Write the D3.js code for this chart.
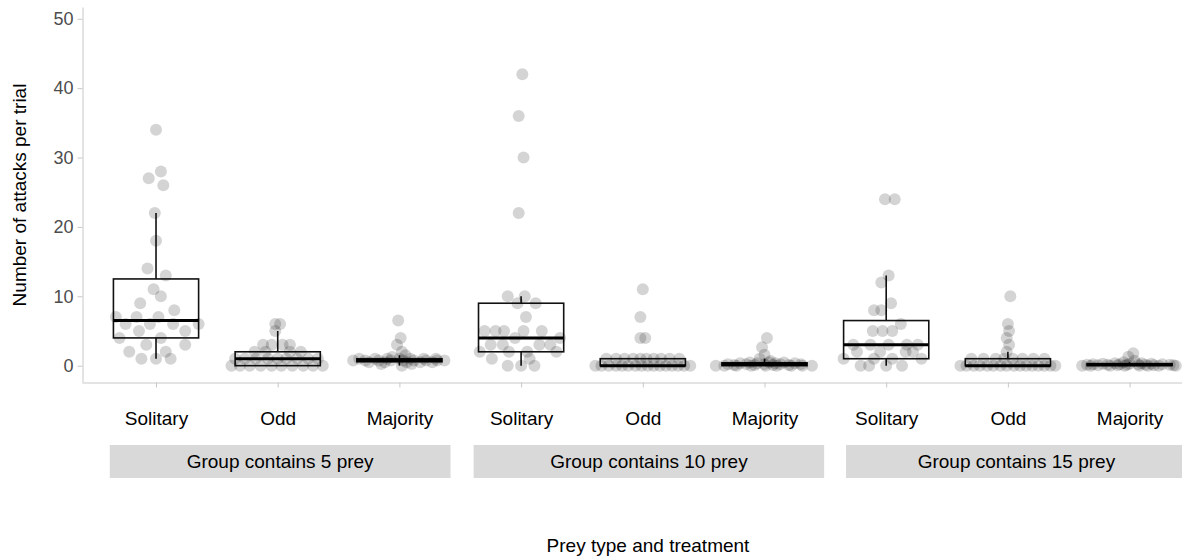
<!DOCTYPE html>
<html>
<head>
<meta charset="utf-8">
<script src="https://cdn.jsdelivr.net/npm/d3@7"></script>
<style>
  html, body { margin: 0; padding: 0; background: #fff; }
  svg text { font-family: "Liberation Sans", Arial, sans-serif; }
</style>
</head>
<body>
<svg id="chart" width="1182" height="560"></svg>
<script>
// Prey types, repeated within each group-size treatment
const preyTypes = ["Solitary", "Odd", "Majority"];
const groupSizes = [5, 10, 15];
const stripLabels = ["Group contains 5 prey", "Group contains 10 prey", "Group contains 15 prey"];
const yTicks = [0, 10, 20, 30, 40, 50];

// Attacks per trial, one array per treatment; jitter arrays hold the
// horizontal spread of each point in category-width units.
const solitary5 = [34, 28, 27, 26, 22, 18, 14, 13, 11, 10, 9, 8, 7, 7, 7, 6, 6, 6, 6, 5, 5, 4, 4, 3, 3, 2, 2, 1, 1, 1];
const solitary5Jitter = [0.00, 0.04, -0.06, 0.06, -0.01, 0.00, -0.07, 0.08, -0.02, 0.04, -0.13, 0.15, -0.33, -0.16, 0.02, -0.25, -0.05, 0.14, 0.35, -0.14, 0.24, -0.30, 0.04, -0.08, 0.24, -0.22, 0.08, -0.12, 0.00, 0.12];

const odd5 = [6, 6, 5, 3, 3, 3, 3, 2, 2, 2, 2, 1, 1, 1, 1, 1, 1, 1, 1, 1, 0, 0, 0, 0, 0, 0, 0, 0, 0, 0];
const odd5Jitter = [-0.02, 0.02, -0.02, -0.12, -0.05, 0.04, 0.10, -0.10, 0.10, 0.19, -0.19, -0.35, -0.27, -0.18, -0.08, 0.00, 0.07, 0.16, 0.25, 0.33, -0.38, -0.31, -0.23, -0.14, -0.05, 0.03, 0.12, 0.21, 0.29, 0.37];

const majority5 = [6.5, 4, 3, 2, 1.5, 1.25, 1, 1, 1, 1, 1, 1, 1, 0.75, 0.75, 0.75, 0.75, 0.75, 0.75, 0.75, 0.75, 0.75, 0.5, 0.5, 0.5, 0.5, 0.5, 0.25, 0.25, 0];
const majority5Jitter = [-0.01, 0.01, -0.02, 0.02, 0.05, -0.06, -0.33, -0.2, -0.1, 0.0, 0.09, 0.2, 0.3, -0.38, -0.28, -0.17, -0.07, 0.03, 0.12, 0.22, 0.31, 0.37, -0.25, -0.12, 0.06, 0.17, 0.27, -0.15, 0.1, 0.02];

const solitary10 = [42, 36, 30, 22, 10, 10, 9, 9, 7, 5, 5, 5, 5, 5, 4, 4, 3, 3, 3, 3, 2, 2, 2, 2, 1, 1, 0, 0, 0];
const solitary10Jitter = [0.01, -0.02, 0.02, -0.02, -0.11, 0.03, -0.03, 0.12, 0.04, -0.30, -0.21, -0.14, 0.02, 0.17, -0.05, 0.32, -0.25, -0.15, 0.15, 0.24, -0.34, -0.10, 0.05, 0.29, -0.24, 0.07, -0.11, 0.00, 0.11];

const odd10 = [11, 7, 4, 4, 1, 1, 1, 1, 1, 1, 1, 1, 1, 1, 0, 0, 0, 0, 0, 0, 0, 0, 0, 0, 0, 0, 0, 0, 0, 0];
const odd10Jitter = [0.00, -0.02, -0.02, 0.02, -0.3, -0.22, -0.15, -0.08, -0.02, 0.03, 0.09, 0.15, 0.22, 0.3, -0.39, -0.34, -0.28, -0.22, -0.17, -0.12, -0.06, -0.01, 0.04, 0.09, 0.14, 0.19, 0.24, 0.29, 0.34, 0.39];

const majority10 = [4, 2.67, 1.56, 1, 0.67, 0.44, 0.44, 0.44, 0.33, 0.33, 0.33, 0.33, 0.22, 0.22, 0.22, 0.22, 0.22, 0.11, 0.11, 0.11, 0.11, 0, 0, 0, 0, 0, 0, 0, 0, 0];
const majority10Jitter = [0.02, -0.02, 0.00, -0.04, 0.05, -0.12, 0.04, 0.16, -0.2, -0.06, 0.09, 0.25, -0.3, -0.15, 0.0, 0.13, 0.3, -0.25, -0.08, 0.07, 0.2, -0.4, -0.33, -0.23, -0.11, 0.01, 0.1, 0.22, 0.31, 0.39];

const solitary15 = [24, 24, 13, 12, 9, 8, 8, 6, 5, 5, 5, 3, 3, 3, 3, 3, 2, 2, 2, 2, 1, 1, 1, 1, 0, 0, 0, 0];
const solitary15Jitter = [-0.01, 0.07, 0.02, -0.04, 0.04, -0.04, -0.10, 0.12, -0.11, -0.03, 0.05, -0.27, -0.13, 0.02, 0.17, 0.26, -0.24, -0.05, 0.16, 0.22, -0.35, -0.10, 0.05, 0.29, -0.21, -0.14, 0.00, 0.13];

const odd15 = [10, 6, 5, 4, 3, 2, 1, 1, 1, 1, 1, 1, 1, 1, 0, 0, 0, 0, 0, 0, 0, 0, 0, 0, 0, 0, 0, 0, 0, 0];
const odd15Jitter = [0.02, 0.00, 0.01, -0.01, 0.01, -0.01, -0.3, -0.2, -0.1, -0.03, 0.04, 0.12, 0.21, 0.3, -0.39, -0.34, -0.28, -0.23, -0.17, -0.12, -0.06, -0.01, 0.05, 0.1, 0.15, 0.2, 0.25, 0.3, 0.35, 0.39];

const majority15 = [1.79, 1.29, 0.71, 0.5, 0.36, 0.36, 0.29, 0.29, 0.29, 0.21, 0.21, 0.21, 0.21, 0.14, 0.14, 0.14, 0.14, 0.14, 0.07, 0.07, 0.07, 0.07, 0, 0, 0, 0, 0, 0, 0, 0];
const majority15Jitter = [0.03, -0.01, 0.04, -0.05, -0.12, 0.1, -0.22, 0.0, 0.18, -0.3, -0.08, 0.07, 0.27, -0.35, -0.18, -0.02, 0.13, 0.33, -0.26, -0.1, 0.2, 0.36, -0.39, -0.32, -0.16, -0.04, 0.08, 0.15, 0.24, 0.38];

const groups = [
  { size: 5, type: "Solitary", values: solitary5, jitter: solitary5Jitter },
  { size: 5, type: "Odd", values: odd5, jitter: odd5Jitter },
  { size: 5, type: "Majority", values: majority5, jitter: majority5Jitter },
  { size: 10, type: "Solitary", values: solitary10, jitter: solitary10Jitter },
  { size: 10, type: "Odd", values: odd10, jitter: odd10Jitter },
  { size: 10, type: "Majority", values: majority10, jitter: majority10Jitter },
  { size: 15, type: "Solitary", values: solitary15, jitter: solitary15Jitter },
  { size: 15, type: "Odd", values: odd15, jitter: odd15Jitter },
  { size: 15, type: "Majority", values: majority15, jitter: majority15Jitter }
];
groups.forEach(g => g.key = g.type + "-" + g.size);

const svg = d3.select("#chart");
const font = 19;
const gridGray = "#c8c8c8";

// Scales
const x = d3.scalePoint()
  .domain(groups.map(g => g.key))
  .range([83, 1202.6])
  .padding(0.6);
const step = x.step();
const y = d3.scaleLinear().domain([-2.5, 51.7]).range([383, 7]);

// Box statistics (Tukey whiskers)
function boxStats(vals) {
  const s = vals.slice().sort(d3.ascending);
  const q1 = d3.quantile(s, 0.25), med = d3.quantile(s, 0.5), q3 = d3.quantile(s, 0.75);
  const iqr = q3 - q1;
  const lo = d3.min(s.filter(v => v >= q1 - 1.5 * iqr));
  const hi = d3.max(s.filter(v => v <= q3 + 1.5 * iqr));
  return { q1, med, q3, lo, hi };
}

// Y axis
const yAxis = svg.append("g")
  .attr("transform", "translate(82.5,0)")
  .call(d3.axisLeft(y).tickValues(yTicks).tickSize(5).tickPadding(4).tickSizeOuter(0));
yAxis.select(".domain").attr("stroke", gridGray);
yAxis.selectAll(".tick line").attr("stroke", gridGray);
yAxis.selectAll(".tick text").attr("fill", "#4d4d4d").style("font-size", "18px");

// X axis
const xAxis = svg.append("g")
  .attr("transform", "translate(0,382.5)")
  .call(d3.axisBottom(x).tickSize(5).tickPadding(24).tickSizeOuter(0)
    .tickFormat(k => k.split("-")[0]));
xAxis.select(".domain").attr("stroke", gridGray);
xAxis.selectAll(".tick line").attr("stroke", gridGray);
xAxis.selectAll(".tick text").attr("fill", "#000").style("font-size", font + "px");

// Boxplots
const bw = step * 0.7;
const boxes = svg.append("g").selectAll("g").data(groups).join("g")
  .attr("transform", g => `translate(${x(g.key)},0)`);
boxes.each(function (g) {
  const st = boxStats(g.values);
  const b = d3.select(this);
  b.append("line").attr("x1", 0).attr("x2", 0).attr("y1", y(st.q3)).attr("y2", y(st.hi))
    .attr("stroke", "#111").attr("stroke-width", 1.6);
  b.append("line").attr("x1", 0).attr("x2", 0).attr("y1", y(st.q1)).attr("y2", y(st.lo))
    .attr("stroke", "#111").attr("stroke-width", 1.6);
  b.append("rect").attr("x", -bw / 2).attr("width", bw)
    .attr("y", y(st.q3)).attr("height", Math.max(0, y(st.q1) - y(st.q3)))
    .attr("fill", "#fff").attr("stroke", "#111").attr("stroke-width", 1.6);
  b.append("line").attr("x1", -bw / 2).attr("x2", bw / 2).attr("y1", y(st.med)).attr("y2", y(st.med))
    .attr("stroke", "#000").attr("stroke-width", 3);
});

// Jittered points
const pts = groups.flatMap(g => g.values.map((v, i) => ({ key: g.key, v, j: g.jitter[i] })));
svg.append("g").selectAll("circle").data(pts).join("circle")
  .attr("cx", d => x(d.key) + d.j * step)
  .attr("cy", d => y(d.v))
  .attr("r", 6)
  .attr("fill", "#000")
  .attr("fill-opacity", 0.17);

// Group strips under the axis; extents in steps beyond the outer categories
const stripTop = 445, stripH = 33;
const stripPad = [[0.38, 0.42], [0.39, 0.49], [0.33, 0.47]];
const stripSpan = groupSizes.map((s, i) => {
  const x0 = x(groups[i * 3].key) - stripPad[i][0] * step;
  const x1 = x(groups[i * 3 + 2].key) + stripPad[i][1] * step;
  return [x0, x1];
});
const strips = svg.append("g").selectAll("g").data(groupSizes).join("g");
strips.append("rect")
  .attr("x", (s, i) => stripSpan[i][0])
  .attr("width", (s, i) => stripSpan[i][1] - stripSpan[i][0])
  .attr("y", stripTop).attr("height", stripH)
  .attr("fill", "#d9d9d9");
strips.append("text")
  .attr("x", (s, i) => (stripSpan[i][0] + Math.min(stripSpan[i][1], 1187)) / 2)
  .attr("y", stripTop + stripH / 2)
  .attr("dy", "0.35em")
  .attr("text-anchor", "middle")
  .style("font-size", font + "px")
  .text((s, i) => stripLabels[i]);

// Axis titles
svg.append("text")
  .attr("x", 648).attr("y", 552)
  .attr("text-anchor", "middle")
  .style("font-size", font + "px")
  .text("Prey type and treatment");
svg.append("text")
  .attr("transform", "translate(26,195) rotate(-90)")
  .attr("text-anchor", "middle")
  .style("font-size", font + "px")
  .text("Number of attacks per trial");
</script>
</body>
</html>
